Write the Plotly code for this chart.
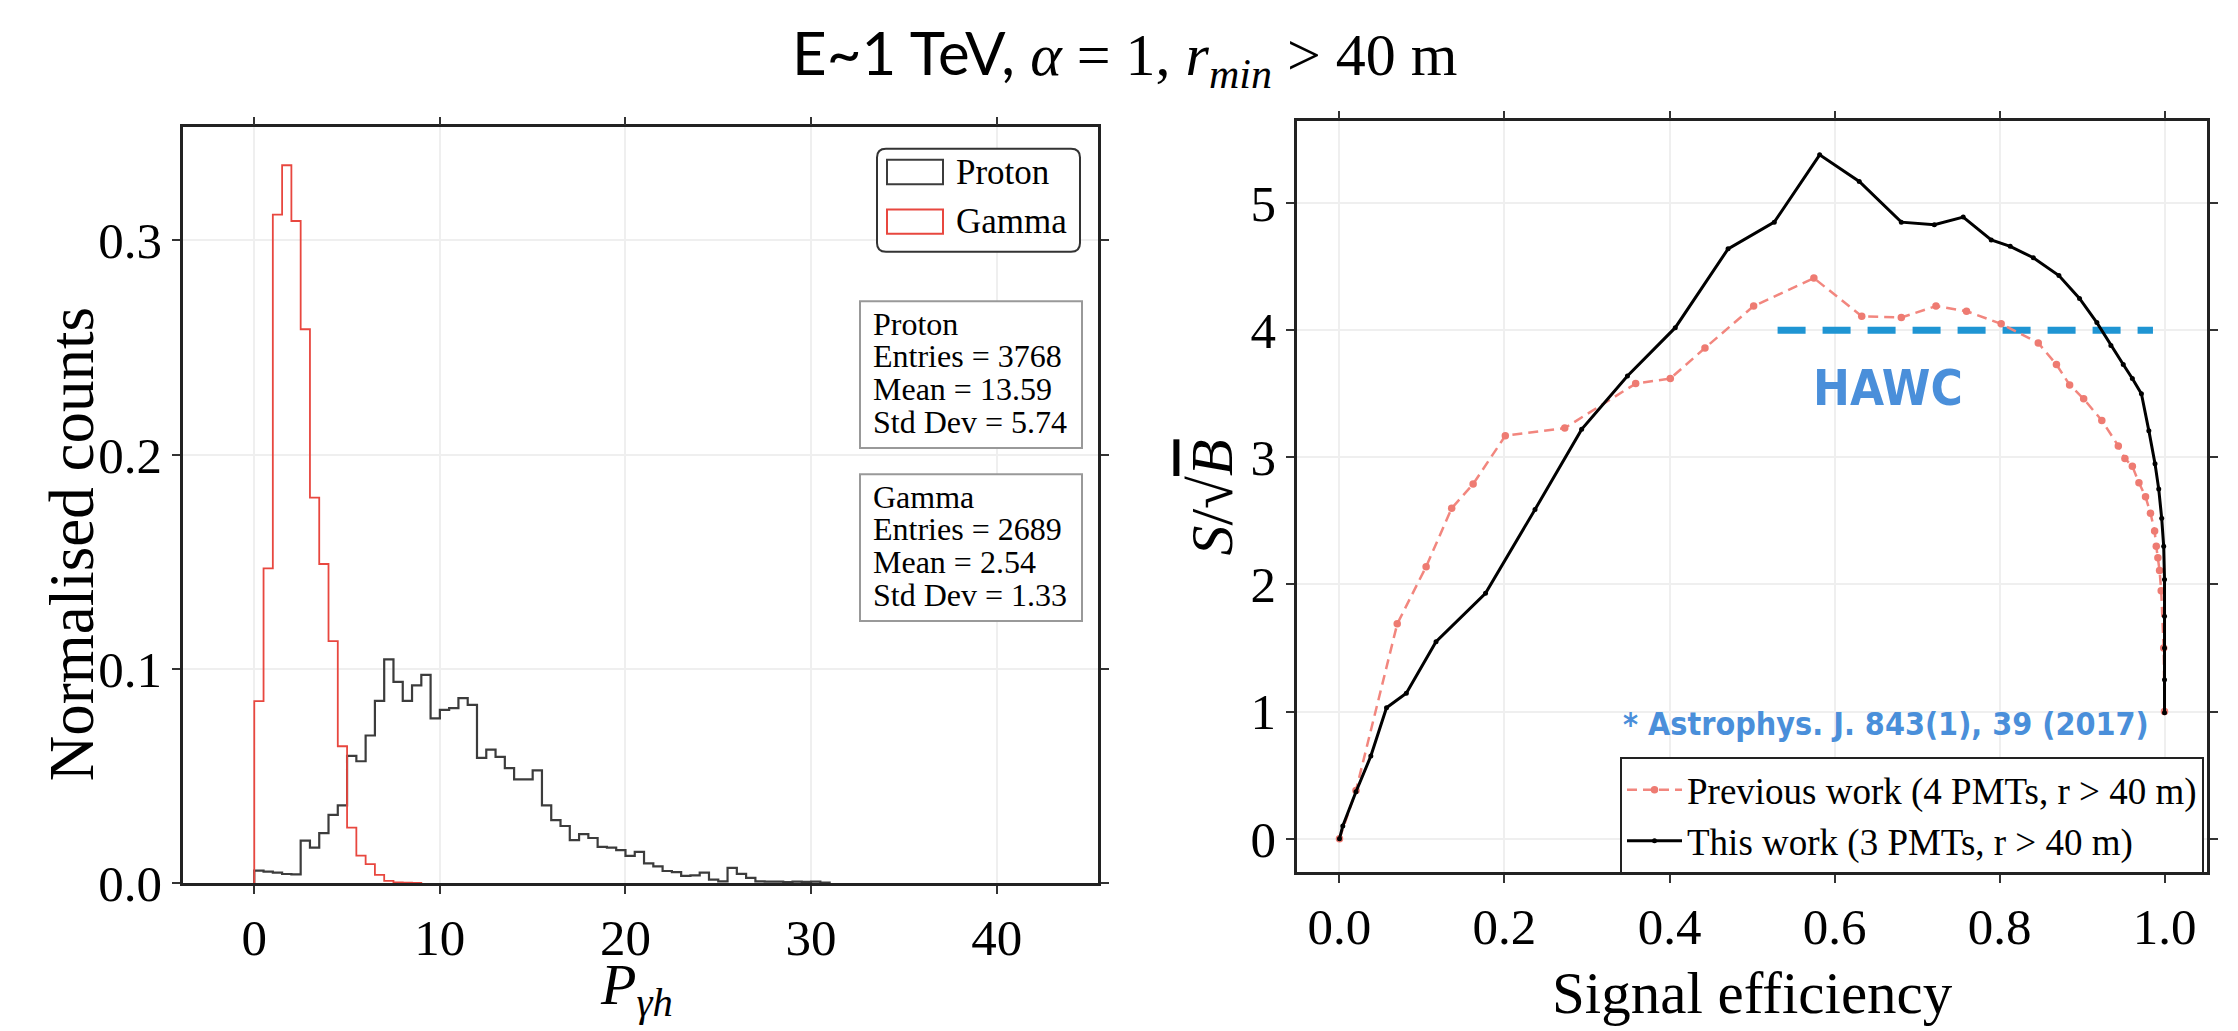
import numpy as np
import plotly.graph_objects as go

W, H = 2238, 1031
SERIF = "Liberation Serif, Times New Roman, serif"
SANS = "Lato, Liberation Sans, sans-serif"
COND = "Liberation Sans Narrow, DejaVu Sans Condensed, Roboto, sans-serif"

# ---------------- data: left histogram ----------------
bin_start = 0.0
bin_width = 0.5
proton_density = [0.006, 0.0055, 0.005, 0.0044, 0.0042, 0.020, 0.0167, 0.0235, 0.032, 0.0364,
                  0.0595, 0.057, 0.069, 0.0852, 0.1045, 0.094, 0.0852, 0.0924, 0.0973, 0.077,
                  0.081, 0.0818, 0.0864, 0.0833, 0.0586, 0.0624, 0.059, 0.0538, 0.0485, 0.0485,
                  0.0527, 0.0364, 0.0295, 0.0268, 0.0202, 0.023, 0.0212, 0.0171, 0.0167, 0.0155,
                  0.0129, 0.0147, 0.0094, 0.008, 0.0058, 0.0053, 0.0035, 0.0038, 0.005, 0.0018,
                  0.001, 0.0073, 0.0045, 0.0026, 0.001, 0.0008, 0.0008, 0.0006, 0.0008, 0.0007,
                  0.0008, 0.0004]
gamma_density = [0.085, 0.147, 0.312, 0.335, 0.309, 0.2585, 0.18, 0.149, 0.113, 0.064,
                 0.026, 0.013, 0.009, 0.004, 0.0012, 0.0005, 0.0004, 0.0003]

stats_names = ["Proton", "Gamma"]
stats_entries = [3768, 2689]
stats_mean = ["13.59", "2.54"]
stats_std = ["5.74", "1.33"]

left_xticks = [0, 10, 20, 30, 40]
left_yticks = [0.0, 0.1, 0.2, 0.3]

# ---------------- data: right curves ----------------
prev_eff = [0, 0.02, 0.070, 0.105, 0.136, 0.162, 0.201, 0.273, 0.359, 0.401, 0.443, 0.502,
            0.575, 0.633, 0.681, 0.723, 0.760, 0.802, 0.847, 0.869, 0.885, 0.902, 0.924,
            0.944, 0.952, 0.961, 0.969, 0.977, 0.983, 0.988, 0.990, 0.992, 0.994, 0.996,
            0.999, 1.0]
prev_sig = [0, 0.38, 1.69, 2.14, 2.60, 2.79, 3.17, 3.23, 3.58, 3.62, 3.86, 4.19,
            4.41, 4.11, 4.10, 4.19, 4.15, 4.05, 3.90, 3.73, 3.57, 3.46, 3.29,
            3.09, 2.99, 2.93, 2.80, 2.69, 2.56, 2.42, 2.30, 2.21, 2.11, 1.95,
            1.5, 1.0]
this_eff = [0, 0.004, 0.020, 0.038, 0.057, 0.081, 0.117, 0.177, 0.237, 0.2935, 0.349, 0.407,
            0.471, 0.527, 0.582, 0.630, 0.681, 0.721, 0.756, 0.790, 0.813, 0.841, 0.872,
            0.897, 0.918, 0.935, 0.950, 0.961, 0.972, 0.981, 0.9885, 0.993, 0.9966, 0.999,
            1.0, 1.0, 1.0, 1.0, 1.0]
this_sig = [0, 0.10, 0.37, 0.65, 1.03, 1.145, 1.55, 1.93, 2.59, 3.22, 3.64, 4.02,
            4.64, 4.85, 5.38, 5.17, 4.85, 4.83, 4.89, 4.71, 4.66, 4.57, 4.43,
            4.25, 4.06, 3.88, 3.73, 3.62, 3.50, 3.21, 2.95, 2.75, 2.52, 2.30,
            2.04, 1.75, 1.50, 1.25, 0.99]
hawc_eff = [0.531, 0.986]
hawc_level = 4.0

right_xticks = [0.0, 0.2, 0.4, 0.6, 0.8, 1.0]
right_yticks = [0, 1, 2, 3, 4, 5]

# ---------------- helpers ----------------
def px(x):
    return x / W

def py(y):
    return 1 - y / H

def step_xy(start, width, vals):
    edges = start + width * np.arange(len(vals) + 1)
    xs = [edges[0]] + list(edges[:-1]) + [edges[-1], edges[-1]]
    ys = [0] + list(vals) + [vals[-1], 0]
    return xs, ys

def rounded_rect(x0, y0, x1, y1, r):
    def p(a, b):
        return f"{px(a):.6f},{py(b):.6f}"
    return (f"M{p(x0 + r, y0)} L{p(x1 - r, y0)} Q{p(x1, y0)} {p(x1, y0 + r)} "
            f"L{p(x1, y1 - r)} Q{p(x1, y1)} {p(x1 - r, y1)} L{p(x0 + r, y1)} "
            f"Q{p(x0, y1)} {p(x0, y1 - r)} L{p(x0, y0 + r)} Q{p(x0, y0)} {p(x0 + r, y0)} Z")

fig = go.Figure()

# ---------------- left histograms ----------------
xs, ys = step_xy(bin_start, bin_width, proton_density)
fig.add_trace(go.Scatter(x=xs, y=ys, mode="lines", line=dict(color="#3c3c3c", width=2.2, shape="hv"),
                         name="Proton", showlegend=False, xaxis="x", yaxis="y"))
xs, ys = step_xy(bin_start, bin_width, gamma_density)
fig.add_trace(go.Scatter(x=xs, y=ys, mode="lines", line=dict(color="#E8473F", width=1.8, shape="hv"),
                         name="Gamma", showlegend=False, xaxis="x", yaxis="y"))

# ---------------- right curves ----------------
fig.add_trace(go.Scatter(x=hawc_eff, y=[hawc_level, hawc_level], mode="lines",
                         line=dict(color="#1F95D3", width=7, dash="28px,17px"),
                         showlegend=False, xaxis="x2", yaxis="y2", name="HAWC"))
fig.add_trace(go.Scatter(x=prev_eff, y=prev_sig, mode="lines+markers",
                         line=dict(color="#F2867E", width=2.5, dash="10px,6px"),
                         marker=dict(color="#EE7B72", size=7.5),
                         name="Previous work (4 PMTs, r &gt; 40 m)", xaxis="x2", yaxis="y2"))
fig.add_trace(go.Scatter(x=this_eff, y=this_sig, mode="lines+markers",
                         line=dict(color="black", width=3),
                         marker=dict(color="black", size=5),
                         name="This work (3 PMTs, r &gt; 40 m)", xaxis="x2", yaxis="y2"))

axis_style = dict(showline=True, linecolor="#222222", linewidth=2.5, mirror="ticks",
                  ticks="outside", ticklen=8, tickwidth=1.5, tickcolor="#333333",
                  showgrid=True, gridcolor="#efefef", gridwidth=1.5, zeroline=False,
                  tickfont=dict(family=SERIF, size=51, color="black"))

fig.update_layout(
    width=W, height=H, margin=dict(l=0, r=0, t=0, b=0),
    paper_bgcolor="white", plot_bgcolor="white",
    xaxis=dict(domain=[px(183), px(1098)], range=[-3.84, 45.46], tickvals=left_xticks,
               anchor="y", **axis_style),
    yaxis=dict(domain=[py(909), py(131)], range=[0, 0.3527], tickvals=left_yticks,
               tickformat=".1f", anchor="x", **axis_style),
    xaxis2=dict(domain=[px(1297), px(2207)], range=[-0.0515, 1.0515], tickvals=right_xticks,
                tickformat=".1f", anchor="y2", **axis_style),
    yaxis2=dict(domain=[py(897), py(125)], range=[-0.26, 5.642], tickvals=right_yticks,
                anchor="x2", **axis_style),
    legend=dict(x=px(1620), y=py(779), xanchor="left", yanchor="top",
                bordercolor="#222222", borderwidth=2, bgcolor="white",
                font=dict(family=SERIF, size=37, color="black"), itemwidth=55,
                tracegroupgap=0),
    showlegend=True,
)

shapes = []
annotations = []

def ann(x, y, text, size, family=SERIF, color="black", xanchor="center", angle=0, yanchor="middle"):
    annotations.append(dict(x=px(x), y=py(y), xref="paper", yref="paper", text=text,
                            showarrow=False, xanchor=xanchor, yanchor=yanchor, textangle=angle,
                            font=dict(family=family, size=size, color=color)))

# title
ann(1124, 58, "E~1 TeV, <span style=\"font-family:Liberation Serif\"><i>α</i> = 1, "
              "<i>r</i><sub><i>min</i></sub> &gt; 40 m</span>", 60, family=SANS)

# axis titles
ann(636, 1017, "<i>P</i><sub><i>γh</i></sub>", 58)
ann(1752, 1022, "Signal efficiency", 59)
ann(72, 560, "Normalised counts", 63, angle=-90)
ann(1212, 512, "<i>S</i>/√<span style=\"text-decoration:overline\"><i>B</i></span>", 60, angle=-90)

# HAWC label and reference
ann(1888, 400, "<b>HAWC</b>", 49, family=COND, color="#4A8FDA")
ann(1886, 745, "<b>* Astrophys. J. 843(1), 39 (2017)</b>", 32, family=COND, color="#4A8FDA")

# left legend (manual, patch style)
shapes.append(dict(type="path", path=rounded_rect(877, 153, 1080, 259, 9), xref="paper", yref="paper",
                   line=dict(color="#333333", width=2), fillcolor="white", layer="above"))
legend_colors = ["#3c3c3c", "#E8473F"]
legend_rows = [177, 228]
for name, col, row in zip(stats_names, legend_colors, legend_rows):
    shapes.append(dict(type="rect", xref="paper", yref="paper", x0=px(887), x1=px(943),
                       y0=py(row - 12.5), y1=py(row + 12.5), line=dict(color=col, width=2),
                       fillcolor="rgba(0,0,0,0)", layer="above"))
    ann(954, row, name, 35, xanchor="left")

# stats boxes
box_tops = [310, 488]
for i, top in enumerate(box_tops):
    shapes.append(dict(type="rect", xref="paper", yref="paper", x0=px(860), x1=px(1082),
                       y0=py(top), y1=py(top + 151), line=dict(color="#999999", width=2),
                       fillcolor="white", layer="above"))
    lines = [stats_names[i], f"Entries = {stats_entries[i]}", f"Mean = {stats_mean[i]}",
             f"Std Dev = {stats_std[i]}"]
    for j, t in enumerate(lines):
        ann(871, top + 23 + 33.7 * j, t, 32, xanchor="left")

fig.update_layout(shapes=shapes, annotations=annotations)

fig.write_html("out.html", config={"displayModeBar": False})
